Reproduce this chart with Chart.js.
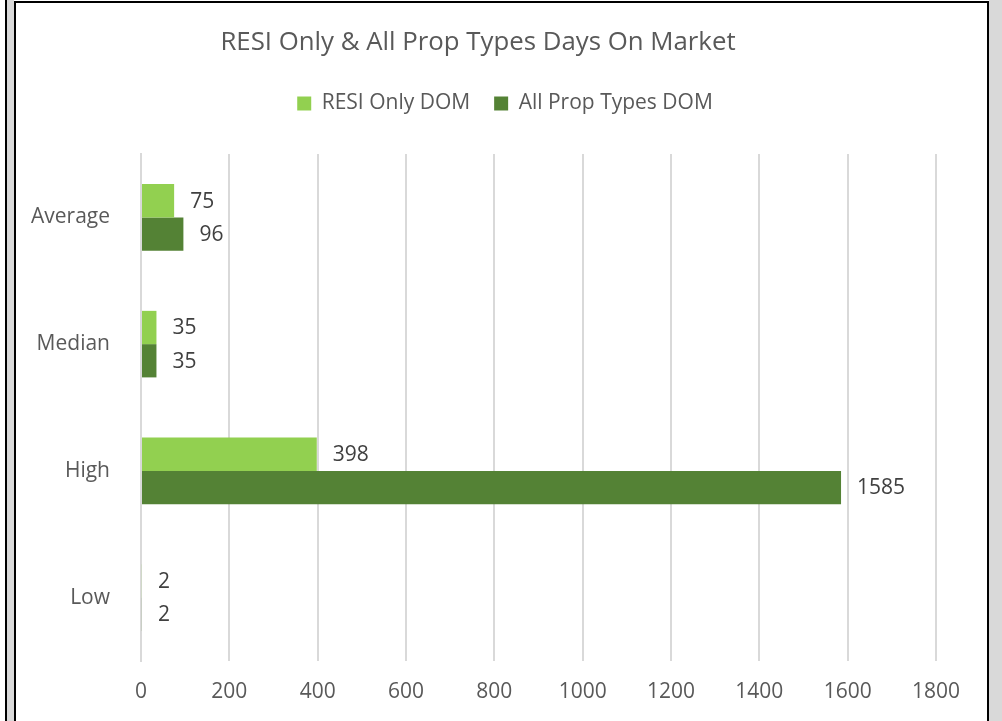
<!DOCTYPE html>
<html>
<head>
<meta charset="utf-8">
<script src="https://cdn.jsdelivr.net/npm/chart.js@4/dist/chart.umd.min.js"></script>
<style>
  html, body { margin: 0; padding: 0; background: #ffffff; }
  body { width: 1002px; height: 721px; position: relative; overflow: hidden; }
  #lineL { position: absolute; left: 5px; top: 0; width: 2px; height: 721px; background: #000; }
  #greyL { position: absolute; left: 7px; top: 0; width: 7px; height: 721px; background: #d9d9d9; }
  #box { position: absolute; left: 14px; top: 1px; width: 971px; height: 730px; border: 2px solid #000; background: #fff; }
  #greyR { position: absolute; left: 989px; top: 0; width: 13px; height: 721px; background: #d9d9d9; }
  #wrap { position: absolute; left: 0; top: 0; width: 1002px; height: 721px; }
</style>
</head>
<body>
<div id="lineL"></div>
<div id="greyL"></div>
<div id="greyR"></div>
<div id="box"></div>
<div id="wrap"><canvas id="c" width="1002" height="721"></canvas></div>
<script>
const chartTitle = "RESI Only & All Prop Types Days On Market";
const categories = ["Average", "Median", "High", "Low"];
const seriesNames = ["RESI Only DOM", "All Prop Types DOM"];
const resiOnlyDOM = [75, 35, 398, 2];
const allPropTypesDOM = [96, 35, 1585, 2];
const xTicks = [0, 200, 400, 600, 800, 1000, 1200, 1400, 1600, 1800];

const FONT = "'Open Sans', 'DejaVu Sans', sans-serif";

const titlePlugin = {
  id: 'customTitle',
  afterLayout(chart) {
    // shift the legend block to the right like the reference
    if (chart.legend) {
      chart.legend.left += 37;
      chart.legend.right += 37;
    }
  },
  afterDraw(chart) {
    const ctx = chart.ctx;
    ctx.save();
    ctx.font = "25.8px " + FONT;
    ctx.fillStyle = "#595959";
    ctx.textAlign = "center";
    ctx.textBaseline = "alphabetic";
    ctx.fillText(chartTitle, 478, 50);
    ctx.restore();
  }
};

const labelPlugin = {
  id: 'barLabels',
  afterDatasetsDraw(chart) {
    const ctx = chart.ctx;
    ctx.save();
    ctx.font = "21px " + FONT;
    ctx.fillStyle = "#404040";
    ctx.textAlign = "left";
    ctx.textBaseline = "middle";
    chart.data.datasets.forEach((ds, di) => {
      const meta = chart.getDatasetMeta(di);
      meta.data.forEach((bar, i) => {
        ctx.fillText(String(ds.data[i]), bar.x + 16, bar.y + 1);
      });
    });
    ctx.restore();
  }
};

new Chart(document.getElementById('c'), {
  type: 'bar',
  data: {
    labels: categories,
    datasets: [
      { label: seriesNames[0], data: resiOnlyDOM, backgroundColor: '#92D050', borderWidth: 0 },
      { label: seriesNames[1], data: allPropTypesDOM, backgroundColor: '#548235', borderWidth: 0 }
    ]
  },
  options: {
    indexAxis: 'y',
    responsive: false,
    animation: false,
    devicePixelRatio: 1,
    categoryPercentage: 0.525,
    barPercentage: 1.0,
    layout: { padding: { left: 0, right: 66, top: 69, bottom: 0 } },
    plugins: {
      title: { display: false },
      subtitle: {
        display: true,
        text: ' ',
        position: 'top',
        weight: 500,
        font: { size: 1, lineHeight: 1 },
        padding: { top: 0, bottom: 29 }
      },
      tooltip: { enabled: false },
      legend: {
        display: true,
        position: 'top',
        labels: {
          font: { family: FONT, size: 21 },
          color: '#595959',
          boxWidth: 14,
          boxHeight: 14,
          padding: 24
        }
      }
    },
    scales: {
      x: {
        min: 0,
        max: 1800,
        afterBuildTicks(scale) { scale.ticks = xTicks.map(v => ({ value: v })); },
        afterFit(scale) { scale.height = 60; },
        grid: { color: '#d9d9d9', lineWidth: 2, drawTicks: false },
        border: { display: false },
        ticks: {
          font: { family: FONT, size: 21 },
          color: '#595959',
          padding: 18,
          callback: (v) => String(v)
        }
      },
      y: {
        afterFit(scale) { scale.width = 141; },
        grid: { display: false, drawTicks: false },
        border: { display: true, color: '#d9d9d9', width: 2 },
        ticks: {
          font: { family: FONT, size: 21 },
          color: '#595959',
          padding: 31
        }
      }
    }
  },
  plugins: [titlePlugin, labelPlugin]
});
</script>
</body>
</html>
